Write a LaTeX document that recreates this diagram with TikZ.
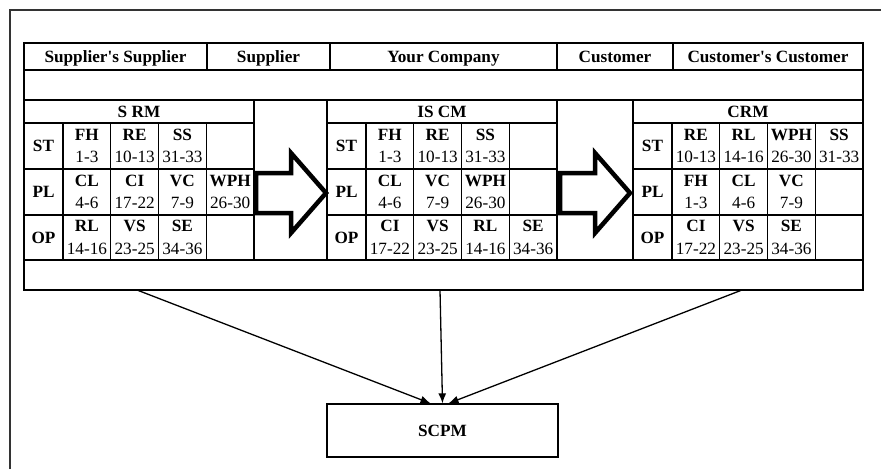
\documentclass[tikz,border=0pt]{standalone}
\usepackage{fontspec}
\setmainfont{Liberation Serif}
\usepackage{tikz}
\usetikzlibrary{shapes,arrows.meta,positioning}

\tikzstyle{grid} = [draw=black, line width=1.3pt]
\tikzstyle{hdr} = [text centered, inner sep=0pt, text height=11.4pt, text depth=0pt, font=\bfseries\fontsize{17.2}{20}\selectfont]
\tikzstyle{cell} = [align=center, inner sep=0pt, font=\fontsize{17.2}{22.6}\selectfont]
\tikzstyle{bigarrow} = [draw=black, line width=4.5pt, miter limit=10]
\tikzstyle{box} = [rectangle, draw=black, line width=1.3pt, minimum width=231pt, minimum height=53pt, font=\bfseries\fontsize{17.2}{20}\selectfont]
\tikzstyle{tedge} = [draw, line width=1.3pt, -{Latex[length=10pt,width=8pt]}]

\begin{document}
\begin{tikzpicture}[x=1pt, y=-1pt]
\useasboundingbox (0,0) rectangle (881,469);

% page frame =============================
\draw[line width=2pt, draw=black!80] (10,469) -- (10,10) -- (881,10);

% table outline and full rows
\draw[grid] (24,43) rectangle (863,290);
\draw[grid] (24,70) -- (863,70);
\draw[grid] (24,100) -- (863,100);
\draw[grid] (24,260) -- (863,260);
\foreach \x in {207,330,557,673} \draw[grid] (\x,43) -- (\x,70);

% chain members
\node[hdr] (sups) at (115.5,56.5) {Supplier\textquotesingle s Supplier};
\node[hdr] (sup) at (268.5,56.5) {Supplier};
\node[hdr] (comp) at (443.5,56.5) {Your Company};
\node[hdr] (cust) at (615,56.5) {Customer};
\node[hdr] (custs) at (768,56.5) {Customer\textquotesingle s Customer};

% blocks with ST / PL / OP rows
\foreach \bx/\bn in {24/srm, 327/iscm, 633/crm} {
  \draw[grid] (\bx,100) rectangle (\bx+230,260);
  \draw[grid] (\bx,123) -- (\bx+230,123);
  \draw[grid] (\bx,169) -- (\bx+230,169);
  \draw[grid] (\bx,215) -- (\bx+230,215);
  \foreach \c in {0,...,3} \draw[grid] (\bx+39+\c*47.75,123) -- (\bx+39+\c*47.75,260);
  \foreach \r/\y in {ST/146, PL/192, OP/237.5} \node[hdr] (\bn-\r) at (\bx+19.5,\y) {\r};
}

% S RM
\node[hdr] (srm) at (139,111.5) {S RM};
\foreach \lab/\num [count=\i from 0] in {FH/1-3, RE/10-13, SS/31-33}
  \node[cell] (srm-st\i) at (86.9+\i*47.75,146) {\textbf{\lab}\\\num};
\foreach \lab/\num [count=\i from 0] in {CL/4-6, CI/17-22, VC/7-9, WPH/26-30}
  \node[cell] (srm-pl\i) at (86.9+\i*47.75,192) {\textbf{\lab}\\\num};
\foreach \lab/\num [count=\i from 0] in {RL/14-16, VS/23-25, SE/34-36}
  \node[cell] (srm-op\i) at (86.9+\i*47.75,237.5) {\textbf{\lab}\\\num};

% IS CM
\node[hdr] (iscm) at (442,111.5) {IS CM};
\foreach \lab/\num [count=\i from 0] in {FH/1-3, RE/10-13, SS/31-33}
  \node[cell] (iscm-st\i) at (389.9+\i*47.75,146) {\textbf{\lab}\\\num};
\foreach \lab/\num [count=\i from 0] in {CL/4-6, VC/7-9, WPH/26-30}
  \node[cell] (iscm-pl\i) at (389.9+\i*47.75,192) {\textbf{\lab}\\\num};
\foreach \lab/\num [count=\i from 0] in {CI/17-22, VS/23-25, RL/14-16, SE/34-36}
  \node[cell] (iscm-op\i) at (389.9+\i*47.75,237.5) {\textbf{\lab}\\\num};

% CRM
\node[hdr] (crm) at (748,111.5) {CRM};
\foreach \lab/\num [count=\i from 0] in {RE/10-13, RL/14-16, WPH/26-30, SS/31-33}
  \node[cell] (crm-st\i) at (695.9+\i*47.75,146) {\textbf{\lab}\\\num};
\foreach \lab/\num [count=\i from 0] in {FH/1-3, CL/4-6, VC/7-9}
  \node[cell] (crm-pl\i) at (695.9+\i*47.75,192) {\textbf{\lab}\\\num};
\foreach \lab/\num [count=\i from 0] in {CI/17-22, VS/23-25, SE/34-36}
  \node[cell] (crm-op\i) at (695.9+\i*47.75,237.5) {\textbf{\lab}\\\num};

% block arrows between the blocks
\foreach \ax in {256,560}
  \draw[bigarrow] (\ax,173) -- (\ax+35,173) -- (\ax+35,153) -- (\ax+70,193)
    -- (\ax+35,233) -- (\ax+35,213) -- (\ax,213) -- cycle;

% measurement box
\node[box] (scpm) at (442.5,430.5) {SCPM};

\coordinate (srm-out) at (137,290);
\coordinate (iscm-out) at (440,290);
\coordinate (crm-out) at (742,290);

% edges to SCPM
\path[tedge] (srm-out) -- ([xshift=-12pt]scpm.north);
\path[tedge] (iscm-out) -- (scpm.north);
\path[tedge] (crm-out) -- ([xshift=6pt]scpm.north);

\end{tikzpicture}
\end{document}
